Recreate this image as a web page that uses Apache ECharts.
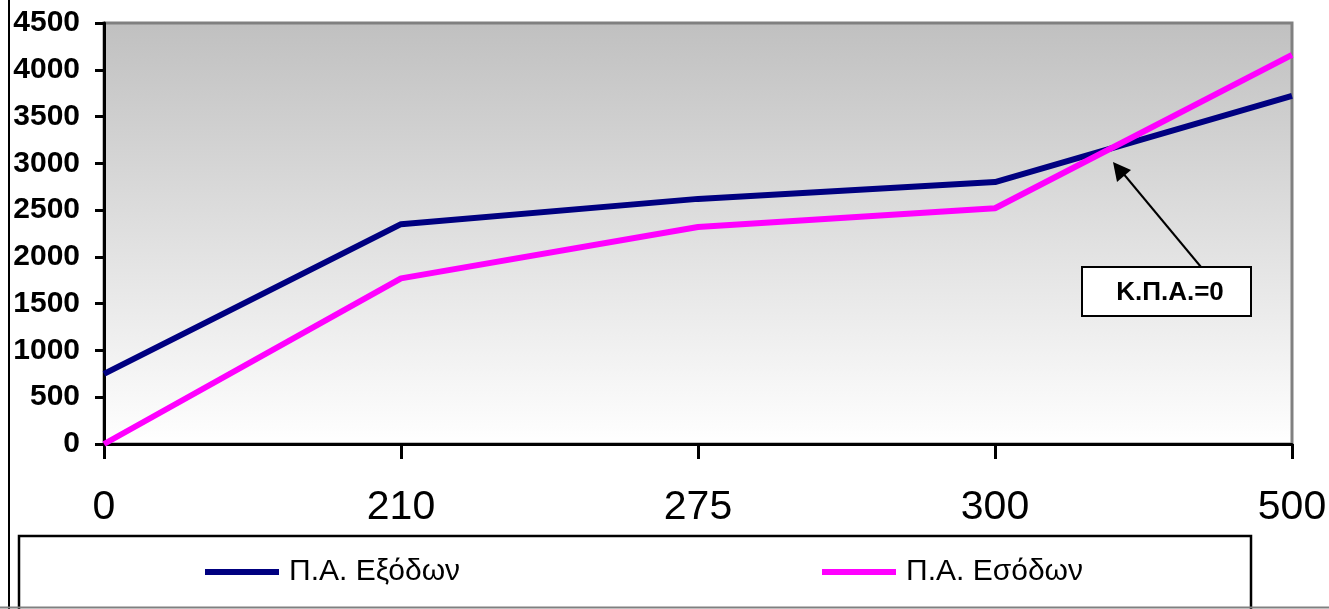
<!DOCTYPE html>
<html>
<head>
<meta charset="utf-8">
<script src="https://cdn.jsdelivr.net/npm/echarts@6/dist/echarts.min.js"></script>
<style>
  html, body { margin: 0; padding: 0; background: #ffffff; }
  #chart { width: 1329px; height: 609px; }
</style>
</head>
<body>
<div id="chart"></div>
<script>
// Quantities on the horizontal axis
const quantities = ['0', '210', '275', '300', '500'];
// Total cost (Π.Α. Εξόδων) and total revenue (Π.Α. Εσόδων)
const costValues = [750, 2350, 2620, 2800, 3720];
const revenueValues = [0, 1770, 2320, 2520, 4160];
const costName = 'Π.Α. Εξόδων';
const revenueName = 'Π.Α. Εσόδων';
const breakEvenLabel = 'Κ.Π.Α.=0';

const SANS = '"Liberation Sans", Arial, sans-serif';

const chart = echarts.init(document.getElementById('chart'), null, { renderer: 'canvas' });

chart.setOption({
  animation: false,
  grid: {
    left: 104, top: 23, right: 37, bottom: 165,
    containLabel: false,
    outerBoundsMode: 'none',
    show: true,
    borderColor: '#808080',
    borderWidth: 3,
    backgroundColor: {
      type: 'linear', x: 0, y: 0, x2: 0, y2: 1,
      colorStops: [
        { offset: 0, color: '#c0c0c0' },
        { offset: 1, color: '#ffffff' }
      ]
    }
  },
  legend: [
    {
      data: [costName], left: 200, top: 552,
      icon: 'rect', itemWidth: 74, itemHeight: 6, itemGap: 0,
      textStyle: { fontFamily: SANS, fontSize: 30, color: '#000', padding: [0, 0, 0, 5] }
    },
    {
      data: [revenueName], left: 817, top: 552,
      icon: 'rect', itemWidth: 74, itemHeight: 6, itemGap: 0,
      textStyle: { fontFamily: SANS, fontSize: 30, color: '#000', padding: [0, 0, 0, 5] }
    }
  ],
  xAxis: {
    type: 'category',
    data: quantities,
    boundaryGap: false,
    axisLine: { lineStyle: { color: '#000', width: 3 } },
    axisTick: { show: true, length: 15, lineStyle: { color: '#000', width: 3 } },
    axisLabel: { fontFamily: SANS, fontSize: 41, color: '#000', margin: 43 },
    splitLine: { show: false }
  },
  yAxis: {
    type: 'value',
    min: 0, max: 4500, interval: 500,
    axisLine: { show: true, lineStyle: { color: '#000', width: 3 } },
    axisTick: { show: true, length: 9, lineStyle: { color: '#000', width: 3 } },
    axisLabel: {
      fontFamily: SANS, fontWeight: 'bold', fontSize: 30, color: '#000', margin: 24,
      formatter: (v) => String(v)
    },
    splitLine: { show: false }
  },
  series: [
    {
      name: costName, type: 'line', data: costValues,
      symbol: 'none', lineStyle: { color: '#000080', width: 6 }, itemStyle: { color: '#000080' },
      z: 3
    },
    {
      name: revenueName, type: 'line', data: revenueValues,
      symbol: 'none', lineStyle: { color: '#ff00ff', width: 6 }, itemStyle: { color: '#ff00ff' },
      z: 4
    }
  ],
  graphic: [
    // outer frame: left edge and bottom edge
    { type: 'line', shape: { x1: 9, y1: 0, x2: 9, y2: 609 }, style: { stroke: '#000', lineWidth: 2 }, z: 10 },
    { type: 'line', shape: { x1: 0, y1: 607.5, x2: 1329, y2: 607.5 }, style: { stroke: '#808080', lineWidth: 2 }, z: 10 },
    // legend frame
    { type: 'rect', shape: { x: 19, y: 536, width: 1232, height: 100 }, style: { fill: '#fff', stroke: '#000', lineWidth: 2.5 }, z: -1 },
    // break-even annotation: arrow and callout box
    { type: 'line', shape: { x1: 1201, y1: 267, x2: 1122, y2: 172 }, style: { stroke: '#000', lineWidth: 2 }, z: 20 },
    { type: 'polygon', shape: { points: [[1113, 162], [1117, 182], [1131, 170]] }, style: { fill: '#000' }, z: 20 },
    {
      type: 'rect', shape: { x: 1082, y: 267, width: 169, height: 49 },
      style: { fill: '#fff', stroke: '#000', lineWidth: 2 }, z: 20
    },
    {
      type: 'text', x: 1170, y: 293, z: 21,
      style: { text: breakEvenLabel, font: 'bold 26px ' + SANS, fill: '#000', align: 'center', verticalAlign: 'middle' }
    }
  ]
});
</script>
</body>
</html>
